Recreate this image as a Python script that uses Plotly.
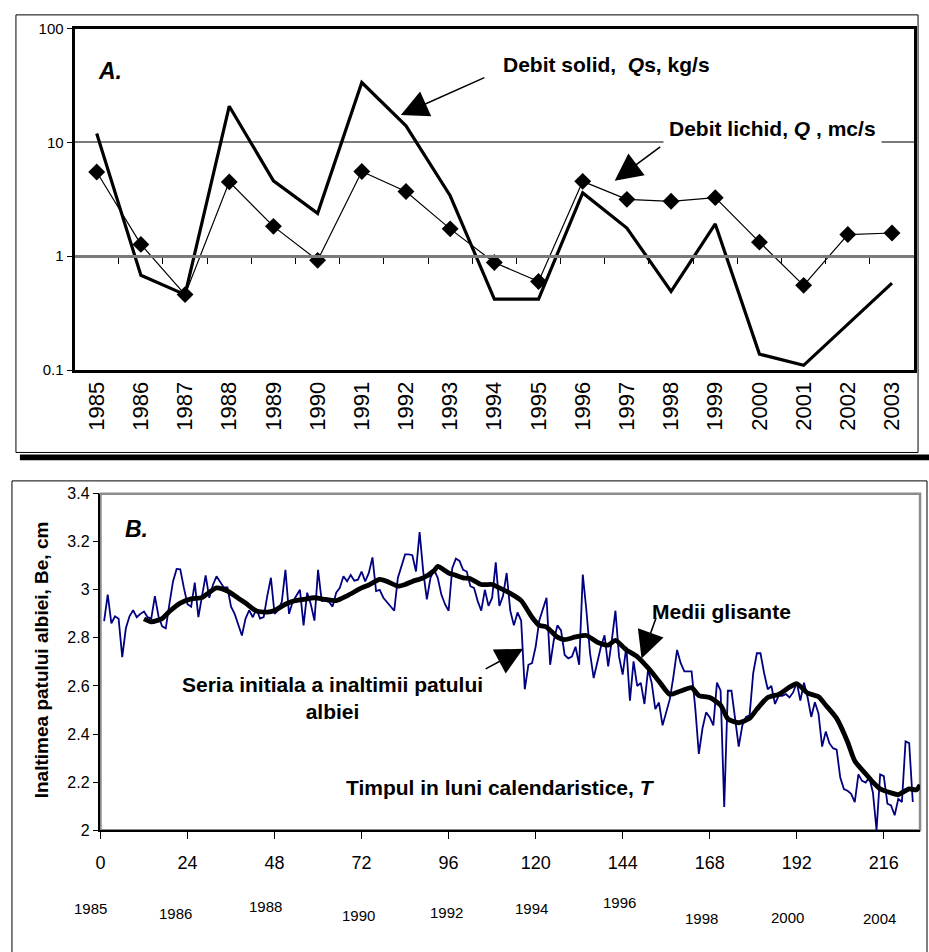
import plotly.graph_objects as go

W, H = 929, 952
def px(x, y):
    return x / W, 1 - y / H

# ---------------- Panel A data ----------------
years = [str(y) for y in range(1985, 2004)]
qs_solid = [12.0, 0.68, 0.46, 20.8, 4.6, 2.38, 33.6, 14.0, 3.4, 0.42, 0.42,
            3.6, 1.77, 0.49, 1.92, 0.138, 0.11, 0.25, 0.58]
q_liquid = [5.5, 1.27, 0.46, 4.5, 1.83, 0.92, 5.55, 3.7, 1.74, 0.88, 0.60,
            4.55, 3.16, 3.04, 3.27, 1.33, 0.555, 1.55, 1.6]
a_yticks = [0.1, 1, 10, 100]
a_yticktext = ["0.1", "1", "10", "100"]

# ---------------- Panel B data ----------------
height = [2.87, 2.98, 2.86, 2.89, 2.88, 2.72, 2.84, 2.89, 2.915, 2.886,
          2.90, 2.91, 2.886, 2.88, 2.974, 2.89, 2.848, 2.84, 2.94, 3.035,
          3.087, 3.085, 3.008, 2.94, 2.93, 3.03, 2.886, 2.97, 3.06, 2.967,
          3.02, 3.056, 3.035, 3.01, 3.01, 2.93, 2.90, 2.858, 2.81, 2.88,
          2.915, 2.886, 2.92, 2.88, 2.886, 2.975, 3.05, 2.90, 2.915, 2.95,
          3.083, 2.90, 2.95, 2.975, 3.0, 2.852, 2.988, 2.94, 2.872, 3.083,
          2.954, 2.954, 2.95, 2.93, 2.988, 3.008, 3.056, 3.035, 3.062, 3.038,
          3.042, 3.076, 3.035, 3.07, 3.135, 2.995, 3.0, 2.967, 2.95, 2.933,
          2.913, 3.049, 3.10, 3.147, 3.147, 3.144, 3.076, 3.24, 3.076, 2.96,
          3.05, 3.083, 3.05, 2.98, 2.94, 2.913, 3.09, 3.13, 3.12, 3.083,
          3.076, 3.015, 3.008, 2.954, 2.913, 3.0, 2.933, 2.967, 3.114, 2.933,
          2.974, 3.07, 2.913, 2.852, 2.906, 2.872, 2.586, 2.688, 2.695, 2.763,
          2.872, 2.92, 2.967, 2.688, 2.79, 2.852, 2.831, 2.729, 2.715, 2.722,
          2.763, 2.688, 3.063, 2.913, 2.736, 2.633, 2.695, 2.763, 2.811, 2.681,
          2.79, 2.913, 2.722, 2.647, 2.763, 2.539, 2.702, 2.60, 2.613, 2.525,
          2.668, 2.613, 2.504, 2.531, 2.436, 2.49, 2.545, 2.64, 2.75, 2.695,
          2.661, 2.661, 2.661, 2.511, 2.317, 2.423, 2.49, 2.47, 2.436, 2.614,
          2.58, 2.097, 2.58, 2.58, 2.464, 2.348, 2.436, 2.471, 2.478, 2.654,
          2.736, 2.736, 2.654, 2.586, 2.6, 2.525, 2.559, 2.559, 2.566, 2.552,
          2.573, 2.614, 2.539, 2.614, 2.552, 2.471, 2.532, 2.485, 2.348, 2.41,
          2.362, 2.341, 2.335, 2.219, 2.171, 2.164, 2.151, 2.117, 2.232, 2.205,
          2.198, 2.219, 2.157, 2.0, 2.232, 2.225, 2.110, 2.103, 2.062, 2.130,
          2.117, 2.369, 2.362, 2.117]
months = list(range(1, len(height) + 1))

ma_month = [12, 14, 17, 19, 22, 25, 28, 32, 35, 38, 40, 43, 46, 48, 51, 53,
            56, 59, 62, 65, 68, 72, 74, 77, 79, 82, 84, 86, 89, 92, 93, 96,
            98, 100, 102, 105, 108, 110, 113, 116, 119, 121, 123, 126, 128,
            131, 134, 137, 140, 142, 145, 148, 151, 154, 157, 160, 163, 165,
            168, 171, 173, 176, 179, 181, 184, 187, 190, 192, 195, 198, 200,
            203, 206, 208, 211, 213, 215, 218, 220, 223, 225, 226]
ma_value = [2.879, 2.867, 2.88, 2.91, 2.945, 2.962, 2.968, 3.008, 2.995, 2.965,
            2.945, 2.912, 2.907, 2.914, 2.94, 2.952, 2.96, 2.967, 2.96, 2.955,
            2.975, 3.008, 3.02, 3.043, 3.035, 3.015, 3.022, 3.035, 3.05, 3.08,
            3.097, 3.07, 3.06, 3.05, 3.046, 3.022, 3.022, 3.008, 2.985, 2.955,
            2.886, 2.852, 2.845, 2.803, 2.793, 2.804, 2.81, 2.782, 2.77, 2.79,
            2.75, 2.722, 2.675, 2.62, 2.565, 2.579, 2.593, 2.56, 2.552, 2.52,
            2.463, 2.447, 2.465, 2.503, 2.552, 2.565, 2.595, 2.61, 2.57, 2.555,
            2.52, 2.465, 2.368, 2.288, 2.235, 2.2, 2.172, 2.155, 2.148, 2.172,
            2.168, 2.188]
b_xticks = [0, 24, 48, 72, 96, 120, 144, 168, 192, 216]
b_yticks = [2.0, 2.2, 2.4, 2.6, 2.8, 3.0, 3.2, 3.4]
b_yticktext = ["2", "2.2", "2.4", "2.6", "2.8", "3", "3.2", "3.4"]
year_labels = ["1985", "1986", "1988", "1990", "1992", "1994", "1996", "1998", "2000", "2004"]

# ---------------- Layout geometry (pixels) ----------------
A_x0, A_x1, A_y0, A_y1 = 70, 914, 20, 368
B_x0, B_x1, B_y0, B_y1 = 96, 920, 494, 837

FONT = "Liberation Sans, Arial, sans-serif"
NARROW = "Liberation Sans Narrow, Liberation Sans, Arial, sans-serif"

fig = go.Figure()

fig.add_trace(go.Scatter(x=years, y=qs_solid, mode="lines",
                         line=dict(color="black", width=3.2),
                         xaxis="x", yaxis="y", showlegend=False))
fig.add_trace(go.Scatter(x=years, y=q_liquid, mode="lines+markers",
                         line=dict(color="black", width=1.2),
                         marker=dict(symbol="diamond", size=13, color="black"),
                         xaxis="x", yaxis="y", showlegend=False))
# invisible trace carrying the category tick axis that crosses at 1
fig.add_trace(go.Scatter(x=years, y=q_liquid, mode="lines", opacity=0,
                         xaxis="x3", yaxis="y", showlegend=False, hoverinfo="skip"))

fig.add_trace(go.Scatter(x=months, y=height, mode="lines",
                         line=dict(color="#000080", width=1.8),
                         xaxis="x2", yaxis="y2", showlegend=False))
fig.add_trace(go.Scatter(x=ma_month, y=ma_value, mode="lines",
                         line=dict(color="black", width=4.8, shape="spline", smoothing=0.6),
                         xaxis="x2", yaxis="y2", showlegend=False))

ay0 = 1 - A_y1 / H
ay1 = 1 - A_y0 / H
pos_one = ay0 + (ay1 - ay0) / 3.0

shapes = []
shapes.append(dict(type="rect", xref="paper", yref="paper",
                   x0=11 / W, x1=918 / W, y0=1 - 452 / H, y1=1 - 6 / H,
                   line=dict(color="black", width=1)))
shapes.append(dict(type="rect", xref="paper", yref="paper",
                   x0=15 / W, x1=1.0, y0=1 - 460 / H, y1=1 - 454 / H,
                   line=dict(width=0), fillcolor="black"))
shapes.append(dict(type="rect", xref="paper", yref="paper",
                   x0=7 / W, x1=927 / W, y0=-0.02, y1=1 - 481 / H,
                   line=dict(color="black", width=1)))
shapes.append(dict(type="rect", xref="paper", yref="paper",
                   x0=B_x0 / W, x1=B_x1 / W, y0=1 - B_y1 / H, y1=1 - B_y0 / H,
                   line=dict(color="#8c8c8c", width=2.5), layer="below"))

annotations = []
def text(x, y, t, size=21, bold=True, italic=False, **kw):
    xx, yy = px(x, y)
    s = t
    if italic:
        s = "<i>" + s + "</i>"
    if bold:
        s = "<b>" + s + "</b>"
    d = dict(x=xx, y=yy, xref="paper", yref="paper", text=s, showarrow=False,
             xanchor="center", yanchor="middle",
             font=dict(family=FONT, size=size, color="black"))
    d.update(kw)
    annotations.append(d)

def arrow(hx, hy, tx, ty):
    xx, yy = px(hx, hy)
    annotations.append(dict(x=xx, y=yy, xref="paper", yref="paper", text="",
                            showarrow=True, arrowhead=2, arrowsize=3.4,
                            arrowwidth=1.6, arrowcolor="black",
                            ax=tx - hx, ay=ty - hy))

# Panel A texts
text(106, 63, "A.", size=23, italic=True)
text(605, 57, "Debit solid,  <i>Q</i>s, kg/s")
arrow(398, 108, 483, 70)
text(772, 122, "Debit lichid, <i>Q</i> , mc/s", bgcolor="white", borderpad=5)
arrow(613, 175, 660, 140)

# Panel B texts
text(132, 530, "B.", size=23, italic=True)
text(329, 702, "Seria initiala a inaltimii patului<br>albiei")
arrow(521, 652, 482, 673)
text(720, 614, "Medii glisante")
arrow(640, 662, 655, 620)
text(498, 793, "Timpul in luni calendaristice, <i>T</i>")
xx, yy = px(37, 663)
annotations.append(dict(x=xx, y=yy, xref="paper", yref="paper", showarrow=False,
                        xanchor="center", yanchor="middle",
                        text="<b>Inaltimea patului albiei, Be, cm</b>", textangle=-90,
                        font=dict(family=FONT, size=19, color="black")))
year_pos = [(86, 917), (171, 922), (262, 915), (355, 924), (444, 921),
            (529, 917), (618, 911), (700, 927), (787, 926), (879, 927)]
for lbl, (x, y) in zip(year_labels, year_pos):
    xx, yy = px(x, y)
    annotations.append(dict(x=xx, y=yy, xref="paper", yref="paper", showarrow=False,
                            xanchor="center", yanchor="middle",
                            text=lbl, font=dict(family=NARROW, size=15, color="black")))

fig.update_layout(
    width=W, height=H, margin=dict(l=0, r=0, t=0, b=0),
    paper_bgcolor="white", plot_bgcolor="white",
    showlegend=False,
    xaxis=dict(domain=[A_x0 / W, A_x1 / W], anchor="y", type="category",
               range=[-0.5, 18.5], tickangle=-90,
               tickfont=dict(family=FONT, size=22, color="black"),
               showline=True, linecolor="black", linewidth=3, mirror=True,
               showgrid=False, ticks="", zeroline=False),
    xaxis3=dict(overlaying="x", anchor="free", position=pos_one, type="category",
                range=[-0.5, 18.5], showline=True, linecolor="#7a7a7a", linewidth=2.5,
                ticks="outside", ticklen=6, tickwidth=1, tickcolor="black",
                tickson="boundaries", showticklabels=False, showgrid=False,
                zeroline=False),
    yaxis=dict(domain=[ay0, ay1], anchor="x", type="log", range=[-1, 2],
               tickvals=a_yticks, ticktext=a_yticktext,
               tickfont=dict(family=NARROW, size=15, color="black"),
               ticks="outside", ticklen=5, tickcolor="black",
               showline=True, linecolor="black", linewidth=3, mirror=True,
               showgrid=True, gridcolor="#7a7a7a", gridwidth=1.5, zeroline=False),
    xaxis2=dict(domain=[B_x0 / W, B_x1 / W], anchor="y2", range=[0, 226],
                tickvals=b_xticks, ticks="outside", ticklen=7, tickcolor="black",
                tickfont=dict(family=NARROW, size=18, color="black"),
                ticklabelstandoff=8,
                showline=True, linecolor="black", linewidth=1.5,
                showgrid=False, zeroline=False),
    yaxis2=dict(domain=[1 - B_y1 / H, 1 - B_y0 / H], anchor="x2", range=[2, 3.4],
                tickvals=b_yticks, ticktext=b_yticktext,
                ticks="outside", ticklen=6, tickcolor="black",
                tickfont=dict(family=NARROW, size=16, color="black"),
                showline=True, linecolor="black", linewidth=1.5,
                showgrid=False, zeroline=False),
    shapes=shapes, annotations=annotations,
)

fig.write_html("out.html")
